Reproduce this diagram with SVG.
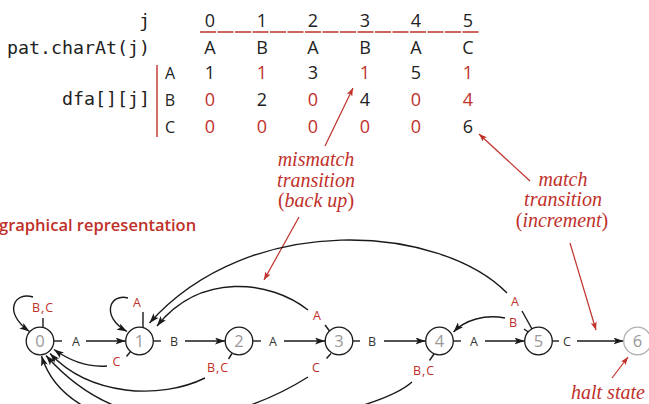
<svg xmlns="http://www.w3.org/2000/svg" width="649" height="404" viewBox="0 0 649 404">
<defs>
<marker id="ah" markerUnits="userSpaceOnUse" markerWidth="11" markerHeight="7" refX="10" refY="3.5" orient="auto">
<path d="M0,0 L10,3.5 L0,7 L2.4,3.5 z" fill="#1a1a1a"/>
</marker>
<marker id="ahr" markerUnits="userSpaceOnUse" markerWidth="9" markerHeight="6" refX="8" refY="3" orient="auto">
<path d="M0,0 L8,3 L0,6 L1.8,3 z" fill="#c0302a"/>
</marker>
</defs>
<style>
.mono{font-family:"DejaVu Sans Mono","Liberation Mono",monospace;font-size:18.3px;fill:#222}
.tab{font-family:"Open Sans","Noto Sans",sans-serif;font-size:18px;fill:#222;text-anchor:middle}
.tabr{fill:#c0302a}
.rl{font-family:"Open Sans","Noto Sans",sans-serif;font-size:16px;fill:#222;text-anchor:middle}
.ann{font-family:"Liberation Serif","DejaVu Serif",serif;font-style:italic;font-size:20px;fill:#c0302a;text-anchor:middle}
.annl{font-family:"Liberation Serif","DejaVu Serif",serif;font-style:italic;font-size:20px;fill:#c0302a;text-anchor:start}
.up{font-style:normal}
.hdr{font-family:"Open Sans","Noto Sans",sans-serif;font-weight:600;font-size:16.5px;fill:#c0302a}
.nc{fill:#fff;stroke:#1a1a1a;stroke-width:1.3}
.nc6{fill:#fff;stroke:#b0b0b0;stroke-width:1.3}
.nt{font-family:"Open Sans","Noto Sans",sans-serif;font-size:16.5px;fill:#999;text-anchor:middle}
.el{font-family:"Open Sans","Noto Sans",sans-serif;font-size:12.5px;fill:#333;text-anchor:middle}
.er{font-family:"Open Sans","Noto Sans",sans-serif;font-size:12.5px;fill:#c0302a;text-anchor:middle}
.e{fill:none;stroke:#1a1a1a;stroke-width:1.4}
.ea{fill:none;stroke:#1a1a1a;stroke-width:1.4;marker-end:url(#ah)}
.ra{fill:none;stroke:#c0302a;stroke-width:1.2;marker-end:url(#ahr)}
.rline{stroke:#c0302a;stroke-width:1.4;fill:none}
</style>

<g id="table">
<text class="mono" x="150" y="26.5" text-anchor="end">j</text>
<text class="mono" x="150" y="53.5" text-anchor="end">pat.charAt(j)</text>
<text class="mono" x="150" y="105" text-anchor="end">dfa[][j]</text>
<line class="rline" x1="200" y1="32" x2="479" y2="32" stroke-dasharray="16 1.5"/>
<line class="rline" x1="157" y1="65" x2="157" y2="137"/>
<text class="rl" x="170" y="79">A</text>
<text class="rl" x="170" y="106">B</text>
<text class="rl" x="170" y="133">C</text>
<g class="tab">
<text x="210" y="27">0</text><text x="262" y="27">1</text><text x="313" y="27">2</text><text x="365" y="27">3</text><text x="416" y="27">4</text><text x="468" y="27">5</text>
<text x="210" y="54">A</text><text x="262" y="54">B</text><text x="313" y="54">A</text><text x="365" y="54">B</text><text x="416" y="54">A</text><text x="468" y="54">C</text>
<text x="210" y="79">1</text><text x="262" y="79" class="tabr">1</text><text x="313" y="79">3</text><text x="365" y="79" class="tabr">1</text><text x="416" y="79">5</text><text x="468" y="79" class="tabr">1</text>
<text x="210" y="106" class="tabr">0</text><text x="262" y="106">2</text><text x="313" y="106" class="tabr">0</text><text x="365" y="106">4</text><text x="416" y="106" class="tabr">0</text><text x="468" y="106" class="tabr">4</text>
<text x="210" y="133" class="tabr">0</text><text x="262" y="133" class="tabr">0</text><text x="313" y="133" class="tabr">0</text><text x="365" y="133" class="tabr">0</text><text x="416" y="133" class="tabr">0</text><text x="468" y="133">6</text>
</g>
</g>

<g id="annotations">
<text class="ann" x="316" y="166">mismatch</text>
<text class="ann" x="316" y="186.5">transition</text>
<text class="ann" x="316" y="207"><tspan class="up">(</tspan>back up<tspan class="up">)</tspan></text>
<text class="ann" x="563" y="186">match</text>
<text class="ann" x="563" y="206">transition</text>
<text class="ann" x="562" y="226.5"><tspan class="up">(</tspan>increment<tspan class="up">)</tspan></text>
<text class="annl" x="571" y="399">halt state</text>
<text class="hdr" x="-1" y="231">graphical representation</text>
<path class="ra" d="M325,146 L353,88"/>
<path class="ra" d="M299,217 L264,280"/>
<path class="ra" d="M530,181 L479,134"/>
<path class="ra" d="M570,243 L596,330"/>
<path class="ra" d="M612,378 L628,357"/>
</g>

<g id="connectors">
<path class="e" d="M53.8,341 L62,341"/><path class="ea" d="M86,341 L125.5,341"/>
<path class="e" d="M153.3,341 L161,341"/><path class="ea" d="M185,341 L225,341"/>
<path class="e" d="M252.8,341 L261,341"/><path class="ea" d="M284,341 L325,341"/>
<path class="e" d="M352.8,341 L360,341"/><path class="ea" d="M384,341 L425.5,341"/>
<path class="e" d="M453.3,341 L461,341"/><path class="ea" d="M485,341 L524.5,341"/>
<path class="e" d="M552.3,341 L559,341"/><path class="ea" d="M577,341 L623.5,341"/>
<path class="e" d="M43,327.5 L43,318"/>
<path class="ea" d="M33,297 C15,291 2,312 29.5,331.5"/>
<path class="e" d="M143,327.5 L143,312"/>
<path class="ea" d="M128,298 C110,293 100,316 127,331.5"/>
<path class="e" d="M130.5,351.5 L126.5,356.5"/>
<path class="ea" d="M107,366 Q80,368 54,349.5"/>
<path class="e" d="M232,353.5 L228.5,359"/>
<path class="ea" d="M205,378 C160,400 90,396 50,353.5"/>
<path class="e" d="M329.5,331 L325,325"/>
<path class="ea" d="M308,310 C270,280 200,272 157,326"/>
<path class="e" d="M331,353.5 L326.5,358.5"/>
<path class="ea" d="M308,377 C240,420 130,450 46,355.5"/>
<path class="e" d="M434,354 L429.5,360.5"/>
<path class="ea" d="M412,382 C370,420 80,480 41.5,356"/>
<path class="e" d="M532,329 L522,311"/>
<path class="ea" d="M507,293 C440,225 250,210 149.5,323"/>
<path class="e" d="M529,332.5 L524,329"/>
<path class="ea" d="M505,318 C485,314 465,320 453.5,332"/>
</g>

<g id="edge-labels">
<text class="el" x="76" y="345.5">A</text>
<text class="el" x="174" y="345.5">B</text>
<text class="el" x="273" y="345.5">A</text>
<text class="el" x="372" y="345.5">B</text>
<text class="el" x="474" y="345.5">A</text>
<text class="el" x="567" y="345.5">C</text>
<text class="er" x="43" y="312" letter-spacing="1">B,C</text>
<text class="er" x="137" y="307">A</text>
<text class="er" x="116.5" y="366">C</text>
<text class="er" x="218" y="372" letter-spacing="1">B,C</text>
<text class="er" x="317" y="320">A</text>
<text class="er" x="316" y="372">C</text>
<text class="er" x="424" y="375" letter-spacing="1">B,C</text>
<text class="er" x="515" y="306">A</text>
<text class="er" x="513" y="327">B</text>
</g>

<g id="node0"><circle class="nc" cx="40" cy="341" r="13.8"/><text class="nt" x="40" y="347">0</text></g>
<g id="node1"><circle class="nc" cx="139.5" cy="341" r="13.8"/><text class="nt" x="139.5" y="347">1</text></g>
<g id="node2"><circle class="nc" cx="239" cy="341" r="13.8"/><text class="nt" x="239" y="347">2</text></g>
<g id="node3"><circle class="nc" cx="339" cy="341" r="13.8"/><text class="nt" x="339" y="347">3</text></g>
<g id="node4"><circle class="nc" cx="439.5" cy="341" r="13.8"/><text class="nt" x="439.5" y="347">4</text></g>
<g id="node5"><circle class="nc" cx="538.5" cy="341" r="13.8"/><text class="nt" x="538.5" y="347">5</text></g>
<g id="node6"><circle class="nc6" cx="637.5" cy="341" r="13.8"/><text class="nt" x="637.5" y="347">6</text></g>
</svg>
